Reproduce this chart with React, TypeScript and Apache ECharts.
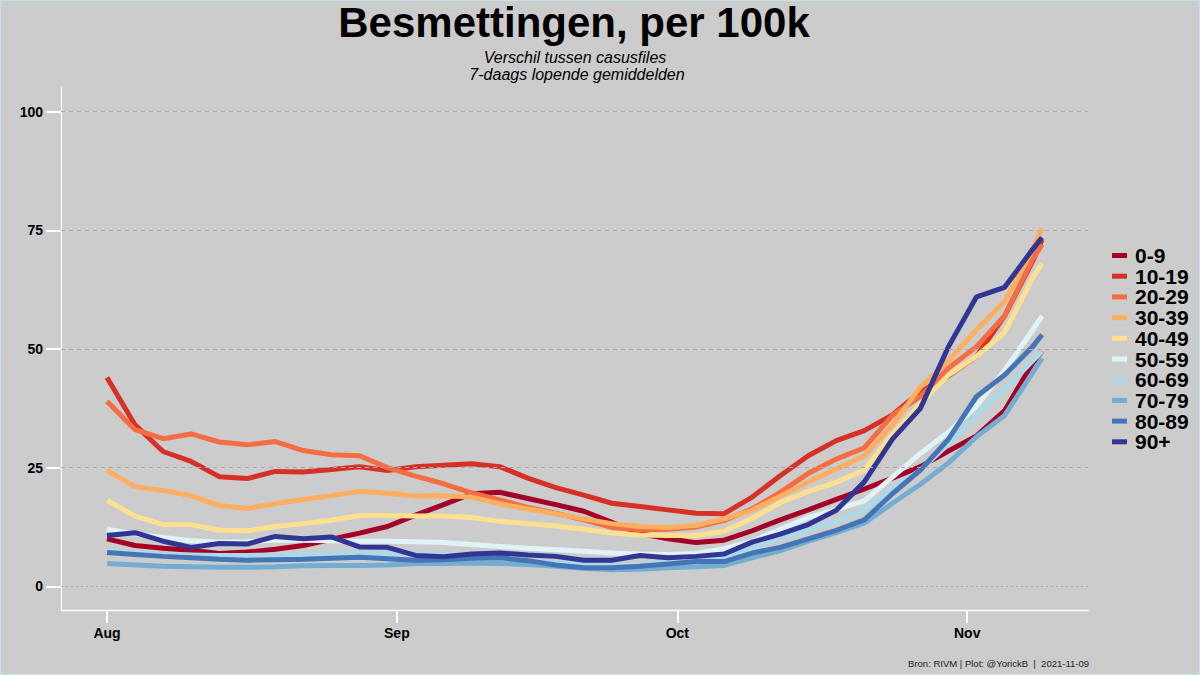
import React, { useEffect, useRef } from "react";
import * as echarts from "echarts";

const dates = [
  "2021-08-01", "2021-08-04", "2021-08-07", "2021-08-10", "2021-08-13", "2021-08-16", "2021-08-19",
  "2021-08-22", "2021-08-25", "2021-08-28", "2021-08-31", "2021-09-03", "2021-09-06", "2021-09-09",
  "2021-09-12", "2021-09-15", "2021-09-18", "2021-09-21", "2021-09-24", "2021-09-27", "2021-09-30",
  "2021-10-03", "2021-10-06", "2021-10-09", "2021-10-12", "2021-10-15", "2021-10-18", "2021-10-21",
  "2021-10-24", "2021-10-27", "2021-10-30", "2021-11-02", "2021-11-05", "2021-11-08", "2021-11-09",
];

const ageGroups = ["0-9", "10-19", "20-29", "30-39", "40-49", "50-59", "60-69", "70-79", "80-89", "90+"];

const age0_9 = [10, 8.6, 8, 7.6, 6.9, 7.2, 7.8, 8.6, 9.9, 11.2, 12.6, 15, 17.2, 19.5, 19.8, 18.5, 17.2, 15.8, 13.5, 11.1, 10, 9.2, 9.7, 11.7, 14, 16.1, 18.3, 20.5, 22.8, 25.2, 28.5, 31.7, 37, 47, 49.5];
const age10_19 = [44, 34, 28.4, 26.3, 23.1, 22.7, 24.2, 24.1, 24.6, 25.2, 24.4, 25.2, 25.5, 25.8, 25.2, 22.8, 20.8, 19.2, 17.5, 16.8, 16.1, 15.4, 15.3, 18.8, 23.3, 27.5, 30.7, 32.8, 36.1, 41, 44.3, 48.5, 57, 68.5, 73];
const age20_29 = [39, 33, 31.1, 32.1, 30.4, 29.8, 30.5, 28.6, 27.7, 27.5, 25, 23.2, 21.6, 19.7, 18.2, 16.6, 15.4, 14, 12.4, 11.9, 12, 12.5, 13.9, 16.3, 19.8, 23.8, 26.8, 29.2, 36, 40, 46, 50.5, 57, 69, 72];
const age30_39 = [24.4, 21, 20.2, 19.1, 17, 16.4, 17.4, 18.3, 19.1, 20, 19.6, 19, 19.1, 18.8, 17.4, 16.3, 15.3, 14.2, 13.2, 12.6, 12.4, 12.8, 14.2, 16, 19, 22, 24.7, 27.5, 34, 42, 47.5, 54, 60, 71, 75.5];
const age40_49 = [18.1, 14.8, 13, 13, 11.8, 11.7, 12.6, 13.2, 13.9, 14.9, 14.9, 14.8, 14.8, 14.5, 13.7, 13.2, 12.7, 12, 11.2, 10.8, 10.7, 10.7, 11.6, 14.3, 17.6, 20, 21.9, 24.5, 32, 38.5, 44.5, 48.5, 53.5, 65, 68];
const age50_59 = [12, 11, 10.3, 9.6, 9.3, 9.4, 9.7, 9.7, 9.6, 9.5, 9.5, 9.4, 9.2, 8.8, 8.4, 8, 7.7, 7.4, 7, 6.8, 6.7, 6.9, 7.9, 9.5, 12, 14.5, 16.2, 18, 23, 28, 32.5, 38, 45.5, 54, 57];
const age60_69 = [7.5, 7, 6.6, 6.6, 6.5, 6.5, 6.6, 6.7, 6.8, 6.9, 6.9, 6.9, 6.7, 6.2, 5.8, 5.4, 5, 4.6, 4.4, 4.5, 5, 5.5, 6, 8, 10, 11.8, 13.8, 16, 20.5, 24.5, 30, 36, 41.5, 47.5, 49.5];
const age70_79 = [4.8, 4.5, 4.2, 4.1, 4, 4, 4.1, 4.3, 4.4, 4.4, 4.5, 4.8, 4.8, 4.9, 4.8, 4.6, 4.2, 3.8, 3.5, 3.6, 3.9, 4.1, 4.4, 6, 7.5, 9.5, 11.3, 13.3, 17.5, 21.5, 26, 31.5, 36, 45, 48];
const age80_89 = [7.1, 6.7, 6.3, 6, 5.7, 5.5, 5.6, 5.7, 5.9, 6.1, 5.8, 5.5, 5.6, 5.9, 6, 5.4, 4.5, 3.9, 3.9, 4.2, 4.7, 5.2, 5.2, 7, 8.2, 10, 11.8, 14, 19.5, 24.5, 31, 40, 44.5, 50.5, 53];
const age90p = [10.7, 11.3, 9.5, 8.2, 9, 8.9, 10.5, 10, 10.4, 8.3, 8.2, 6.5, 6.2, 6.8, 7, 6.6, 6.3, 5.5, 5.5, 6.5, 6, 6.3, 6.8, 9.3, 11, 13, 16, 22, 31, 37.5, 50.5, 61, 63, 71, 73.5];

const seriesValues = [age0_9, age10_19, age20_29, age30_39, age40_49, age50_59, age60_69, age70_79, age80_89, age90p];
const colors = ["#a50026", "#d73027", "#f46d43", "#fdae61", "#fee090", "#e0f3f8", "#abd9e9", "#74add1", "#4575b4", "#313695"];

const monthTicks = ["2021-08-01", "2021-09-01", "2021-10-01", "2021-11-01"];
const monthLabels = ["Aug", "Sep", "Oct", "Nov"];
const yTicks = [0, 25, 50, 75, 100];

const FONT = "Liberation Sans, Arial, sans-serif";

export default function App() {
  const ref = useRef<HTMLDivElement>(null);
  useEffect(() => {
    if (!ref.current) return;
    const chart = echarts.init(ref.current, null, { renderer: "svg" });
    const DAY = 86400000;
    const parse = (s: string) => +echarts.time.parse(s);
    const t0 = parse(dates[0]);
    const dayOf = (s: string) => Math.round((parse(s) - t0) / DAY);
    const tickDays = monthTicks.map(dayOf);

    const lineSeries: any[] = ageGroups.map((name, i) => ({
      name,
      type: "line",
      data: dates.map((d, j) => [dayOf(d), seriesValues[i][j]]),
      showSymbol: false,
      symbol: "none",
      color: colors[i],
      lineStyle: { width: 5, color: colors[i] },
      emphasis: { disabled: true },
      z: 3,
    }));

    const gridSeries = {
      type: "line",
      data: [],
      z: 1,
      silent: true,
      markLine: {
        silent: true,
        symbol: ["none", "none"],
        label: { show: false },
        animation: false,
        data: yTicks.map((v) => ({
          yAxis: v,
          lineStyle: { color: "#a9a9a9", width: 1.2, type: v === 0 ? [2, 3] : [4, 4] },
        })),
      },
    };

    chart.setOption({
      animation: false,
      backgroundColor: "#cccccc",
      grid: { left: 61, right: 112, top: 88, bottom: 65 },
      xAxis: {
        type: "value",
        min: -4.92,
        max: 104.92,
        axisLine: { show: true, onZero: false, lineStyle: { color: "#ffffff", width: 1.3 } },
        axisTick: { show: true, length: 13, customValues: tickDays, lineStyle: { color: "#ffffff", width: 2 } },
        axisLabel: {
          customValues: tickDays,
          formatter: (v: number) => {
            const k = tickDays.indexOf(Math.round(v));
            return k >= 0 ? monthLabels[k] : "";
          },
          color: "#000",
          fontWeight: "bold",
          fontSize: 14,
          fontFamily: FONT,
          margin: 16,
        },
        splitLine: { show: false },
      },
      yAxis: {
        type: "value",
        min: -5,
        max: 105,
        axisLine: { show: true, onZero: false, lineStyle: { color: "#ffffff", width: 1.3 } },
        axisTick: { show: true, length: 15, customValues: yTicks, lineStyle: { color: "#ffffff", width: 2 } },
        axisLabel: {
          customValues: yTicks,
          color: "#000",
          fontWeight: "bold",
          fontSize: 14,
          fontFamily: FONT,
          margin: 18,
        },
        splitLine: { show: false },
      },
      legend: {
        data: ageGroups,
        orient: "vertical",
        left: 1107,
        top: 240,
        icon: "rect",
        itemWidth: 15,
        itemHeight: 5,
        itemGap: -0.3,
        textStyle: { fontSize: 21, lineHeight: 20, fontWeight: "bold", fontFamily: FONT, color: "#000", padding: [0, 0, 0, 3] },
      },
      graphic: [
        {
          type: "rect",
          shape: { x: 0.5, y: 0.5, width: 1199, height: 674 },
          style: { fill: "none", stroke: "#c4e2ee", lineWidth: 1 },
          silent: true,
        },
        {
          type: "text",
          x: 574,
          y: 22,
          style: {
            text: "Besmettingen, per 100k",
            font: `bold 42px ${FONT}`,
            fill: "#000",
            align: "center",
            verticalAlign: "middle",
            textAlign: "center",
            textVerticalAlign: "middle",
          },
        },
        {
          type: "text",
          x: 575,
          y: 57,
          style: {
            text: "Verschil tussen casusfiles",
            font: `italic 16px ${FONT}`,
            fill: "#000",
            align: "center",
            verticalAlign: "middle",
            textAlign: "center",
            textVerticalAlign: "middle",
          },
        },
        {
          type: "text",
          x: 577,
          y: 74,
          style: {
            text: "7-daags lopende gemiddelden",
            font: `italic 16px ${FONT}`,
            fill: "#000",
            align: "center",
            verticalAlign: "middle",
            textAlign: "center",
            textVerticalAlign: "middle",
          },
        },
        {
          type: "text",
          x: 1089,
          y: 663,
          style: {
            text: "Bron: RIVM | Plot: @YorickB  |  2021-11-09",
            font: `9.5px ${FONT}`,
            fill: "#222",
            align: "right",
            verticalAlign: "middle",
            textAlign: "right",
            textVerticalAlign: "middle",
          },
        },
      ],
      series: [gridSeries, ...lineSeries],
    });
    return () => chart.dispose();
  }, []);
  return <div ref={ref} style={{ position: "fixed", left: 0, top: 0, width: 1200, height: 675 }} />;
}
